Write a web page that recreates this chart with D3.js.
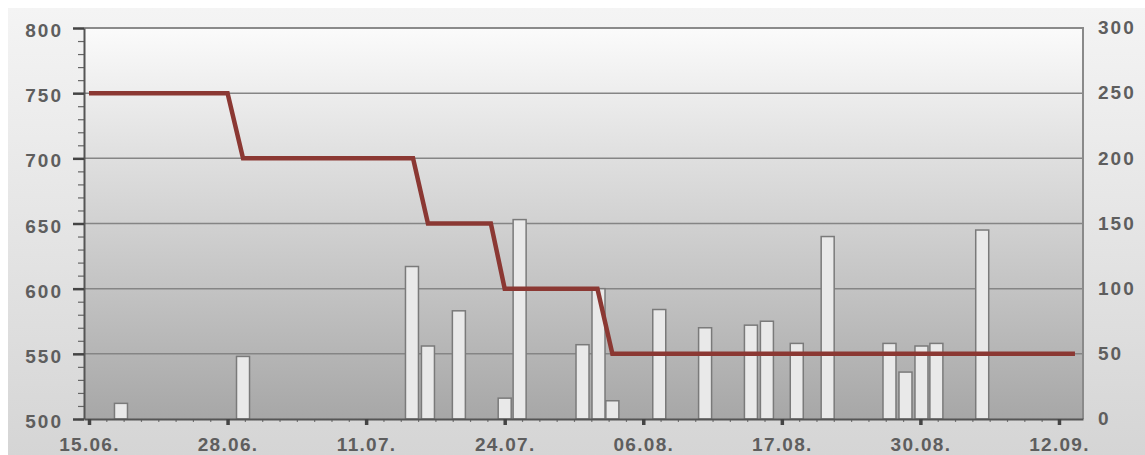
<!DOCTYPE html>
<html>
<head>
<meta charset="utf-8">
<script src="https://cdn.jsdelivr.net/npm/d3@7"></script>
<style>
  body { margin: 0; background: #fff; }
  svg text { font-family: "Liberation Sans", Arial, sans-serif; font-weight: bold; fill: #5e5e5e; }
</style>
</head>
<body>
<div id="chart"></div>
<script>
// x positions are in days from 15.06. (one major tick every 13 days)
var tickDays = [0, 13, 26, 39, 52, 65, 78, 91];
var tickLabels = ["15.06.", "28.06.", "11.07.", "24.07.", "06.08.", "17.08.", "30.08.", "12.09."];

// bars (right axis)
var barDays   = [3.0, 14.45, 30.3, 31.8, 34.7, 39.0, 40.4, 46.3, 47.8, 49.1, 53.5, 57.8, 62.1, 63.6, 66.4, 69.3, 75.1, 76.6, 78.1, 79.5, 83.8];
var barValues = [12, 48, 117, 56, 83, 16, 153, 57, 100, 14, 84, 70, 72, 75, 58, 140, 58, 36, 56, 58, 145];

// step line (left axis)
var lineDays   = [0, 13.0, 14.45, 30.4, 31.8, 37.7, 39.0, 47.7, 49.1, 92.5];
var lineValues = [750, 750, 700, 700, 650, 650, 600, 600, 550, 550];

var leftTicks = [500, 550, 600, 650, 700, 750, 800];
var rightTicks = [0, 50, 100, 150, 200, 250, 300];

var width = 1145, height = 455;
var plotLeft = 84, plotRight = 1083, plotTop = 28, plotBottom = 419;
var barWidth = 13;

var svg = d3.select("#chart")
  .append("svg")
  .attr("width", width)
  .attr("height", height);

var defs = svg.append("defs");
var bgGrad = defs.append("linearGradient")
  .attr("id", "bgGrad").attr("x1", 0).attr("y1", 0).attr("x2", 0).attr("y2", 1);
bgGrad.append("stop").attr("offset", "0%").attr("stop-color", "#f4f4f4");
bgGrad.append("stop").attr("offset", "100%").attr("stop-color", "#d5d5d5");

var plotGrad = defs.append("linearGradient")
  .attr("id", "plotGrad").attr("x1", 0).attr("y1", 0).attr("x2", 0).attr("y2", 1);
plotGrad.append("stop").attr("offset", "0%").attr("stop-color", "#fbfbfb");
plotGrad.append("stop").attr("offset", "100%").attr("stop-color", "#a7a7a7");

svg.append("rect")
  .attr("x", 8).attr("y", 8)
  .attr("width", width - 8).attr("height", height - 8)
  .attr("fill", "url(#bgGrad)");

var x = d3.scaleLinear()
  .domain([-(89 - plotLeft) / 10.659, (plotRight - 89) / 10.659])
  .range([plotLeft, plotRight]);

var yL = d3.scaleLinear().domain([500, 800]).range([plotBottom, plotTop]);
var yR = d3.scaleLinear().domain([0, 300]).range([plotBottom, plotTop]);

svg.append("rect")
  .attr("x", plotLeft).attr("y", plotTop)
  .attr("width", plotRight - plotLeft).attr("height", plotBottom - plotTop)
  .attr("fill", "url(#plotGrad)");

// grid
svg.append("g")
  .selectAll("line")
  .data(leftTicks.slice(1, -1))
  .enter()
  .append("line")
  .attr("x1", plotLeft).attr("x2", plotRight)
  .attr("y1", d => yL(d)).attr("y2", d => yL(d))
  .attr("stroke", "#858585")
  .attr("stroke-width", 1.5);

// plot border (top + right)
svg.append("path")
  .attr("d", "M" + plotLeft + "," + plotTop + "H" + plotRight + "V" + plotBottom)
  .attr("fill", "none")
  .attr("stroke", "#8a8a8a")
  .attr("stroke-width", 2);

// bars
svg.append("g")
  .selectAll("rect")
  .data(barValues)
  .enter()
  .append("rect")
  .attr("x", (d, i) => x(barDays[i]) - barWidth / 2)
  .attr("y", d => yR(d))
  .attr("width", barWidth)
  .attr("height", d => yR(0) - yR(d))
  .attr("fill", "#e9e9e9")
  .attr("stroke", "#7a7a7a")
  .attr("stroke-width", 1.5);

// line
var line = d3.line()
  .x((d, i) => x(lineDays[i]))
  .y(d => yL(d));

svg.append("path")
  .datum(lineValues)
  .attr("d", line)
  .attr("fill", "none")
  .attr("stroke", "#8b3833")
  .attr("stroke-width", 4.5)
  .attr("stroke-linejoin", "miter");

// left axis minor ticks
var minorY = d3.range(500, 801, 10);
svg.append("g")
  .attr("transform", "translate(" + plotLeft + ",0)")
  .call(d3.axisLeft(yL).tickValues(minorY).tickSize(6).tickSizeOuter(0).tickFormat(""))
  .call(g => g.select(".domain").remove())
  .call(g => g.selectAll("line").attr("stroke", "#666").attr("stroke-width", 1.2));

// left axis
var axL = svg.append("g")
  .attr("transform", "translate(" + plotLeft + ",0)")
  .call(d3.axisLeft(yL).tickValues(leftTicks).tickSize(11).tickSizeOuter(0).tickPadding(10));
axL.select(".domain").attr("stroke", "#555").attr("stroke-width", 2);
axL.selectAll(".tick line").attr("stroke", "#444").attr("stroke-width", 2.5);
axL.selectAll("text")
  .attr("font-size", 19).attr("letter-spacing", 2).attr("dy", "0.45em")
  .style("fill", "#5e5e5e");

// right axis
var axR = svg.append("g")
  .attr("transform", "translate(" + plotRight + ",0)")
  .call(d3.axisRight(yR).tickValues(rightTicks).tickSize(0).tickSizeOuter(0).tickPadding(15));
axR.select(".domain").remove();
axR.selectAll("text")
  .attr("font-size", 19).attr("letter-spacing", 2).attr("dy", "0.3em")
  .style("fill", "#5e5e5e");

// x axis minor ticks
var minorX = d3.range(0, 92, 13 / 8);
svg.append("g")
  .attr("transform", "translate(0," + plotBottom + ")")
  .call(d3.axisBottom(x).tickValues(minorX).tickSize(3).tickSizeOuter(0).tickFormat(""))
  .call(g => g.select(".domain").remove())
  .call(g => g.selectAll("line").attr("stroke", "#777").attr("stroke-width", 1.2));

// x axis
var axX = svg.append("g")
  .attr("transform", "translate(0," + plotBottom + ")")
  .call(d3.axisBottom(x).tickValues(tickDays).tickSize(6).tickSizeOuter(0).tickPadding(13)
    .tickFormat((d, i) => tickLabels[i]));
axX.select(".domain").attr("stroke", "#555").attr("stroke-width", 2);
axX.selectAll(".tick line").attr("stroke", "#444").attr("stroke-width", 3.5);
axX.selectAll("text")
  .attr("font-size", 19).attr("letter-spacing", 1.3)
  .style("fill", "#5e5e5e");
</script>
</body>
</html>
